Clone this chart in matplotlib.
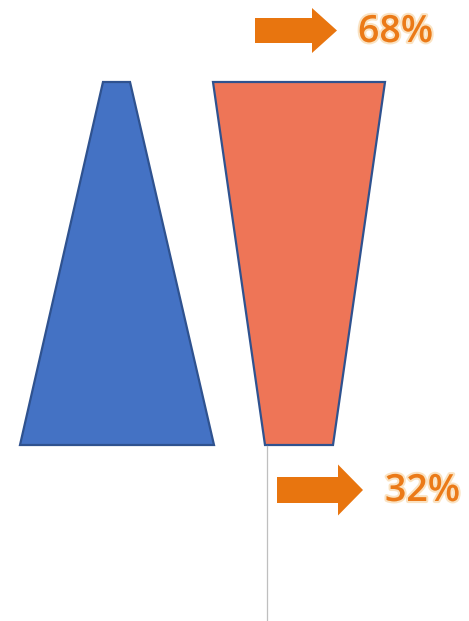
import matplotlib.pyplot as plt
from matplotlib.patches import Polygon, FancyArrow
import matplotlib.patheffects as pe

# shares shown next to the arrows
shares = [68, 32]
share_labels = [f"{s}%" for s in shares]

# trapezoid x-extents (left, right) at top and bottom, in pixels
blue_top = [103, 130]
blue_bottom = [20, 214]
orange_top = [213, 385]
orange_bottom = [265, 333]
shape_top_y = 82
shape_bottom_y = 445

fig = plt.figure(figsize=(4.69, 6.21), dpi=100)
ax = fig.add_axes([0, 0, 1, 1])
ax.set_xlim(0, 469)
ax.set_ylim(621, 0)
ax.axis("off")

edge = "#2F528F"
blue = Polygon([(blue_bottom[0], shape_bottom_y), (blue_top[0], shape_top_y),
                (blue_top[1], shape_top_y), (blue_bottom[1], shape_bottom_y)],
               closed=True, facecolor="#4472C4", edgecolor=edge, linewidth=1.6)
orange = Polygon([(orange_top[0], shape_top_y), (orange_top[1], shape_top_y),
                  (orange_bottom[1], shape_bottom_y), (orange_bottom[0], shape_bottom_y)],
                 closed=True, facecolor="#EE7557", edgecolor=edge, linewidth=1.6)
ax.add_patch(blue)
ax.add_patch(orange)

# thin guide line under the orange shape
ax.plot([267, 267], [shape_bottom_y + 1, 621], color="#BFBFBF", linewidth=0.9)

# arrows
arrow_color = "#E8750F"
ax.add_patch(FancyArrow(255, 30.5, 82, 0, width=25, head_width=45, head_length=25,
                        length_includes_head=True, color=arrow_color, linewidth=0))
ax.add_patch(FancyArrow(277, 490, 86, 0, width=26, head_width=51, head_length=25,
                        length_includes_head=True, color=arrow_color, linewidth=0))

glow = [pe.withStroke(linewidth=3, foreground="#F8D7A8", alpha=0.7)]
ax.text(358, 32, share_labels[0], fontsize=27, color="#EB7A18", family="Open Sans",
        fontweight="semibold", va="center", ha="left", path_effects=glow)
ax.text(385, 491, share_labels[1], fontsize=27, color="#EB7A18", family="Open Sans",
        fontweight="semibold", va="center", ha="left", path_effects=glow)

fig.savefig("out.png", dpi=100)
